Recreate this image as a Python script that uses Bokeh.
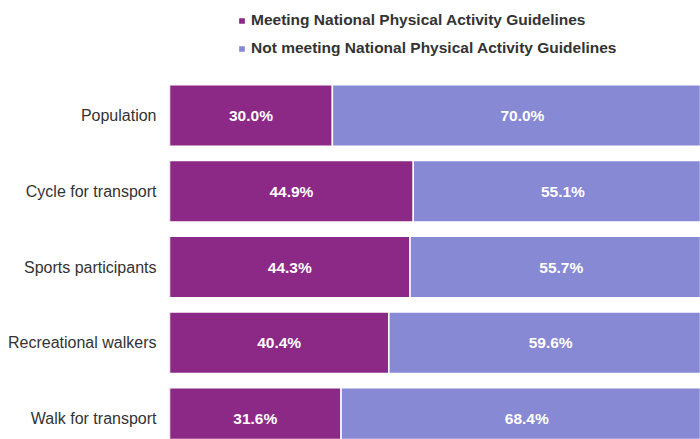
from bokeh.plotting import figure
from bokeh.models import ColumnDataSource, Range1d, FixedTicker, Legend, LegendItem
from bokeh.core.properties import value
from bokeh.embed import file_html
from bokeh.resources import INLINE

categories = ["Population", "Cycle for transport", "Sports participants",
              "Recreational walkers", "Walk for transport"]
meeting = [30.0, 44.9, 44.3, 40.4, 31.6]
not_meeting = [70.0, 55.1, 55.7, 59.6, 68.4]
series_names = ["Meeting National Physical Activity Guidelines",
                "Not meeting National Physical Activity Guidelines"]
colors = ["#8C2886", "#8789D4"]

ypos = [-i for i in range(len(categories))]
src = ColumnDataSource(dict(
    y=ypos,
    m=meeting,
    nm_left=meeting,
    nm_right=[a + b for a, b in zip(meeting, not_meeting)],
    m_mid=[a / 2 for a in meeting],
    nm_mid=[a + b / 2 for a, b in zip(meeting, not_meeting)],
    m_lab=["%.1f%%" % v for v in meeting],
    nm_lab=["%.1f%%" % v for v in not_meeting],
))

p = figure(width=700, height=439, output_backend="svg", toolbar_location=None,
           x_range=Range1d(0, 97.8), y_range=Range1d(-4.277, 1.518),
           min_border_left=169, min_border_right=0, min_border_top=0,
           min_border_bottom=0, outline_line_color=None)
p.xaxis.visible = False
p.grid.visible = False

r1 = p.hbar(y="y", left=0, right="m", height=0.81, source=src,
            fill_color=colors[0], line_color="white", line_width=1.5)
r2 = p.hbar(y="y", left="nm_left", right="nm_right", height=0.81, source=src,
            fill_color=colors[1], line_color="white", line_width=1.5)

for xcol, lcol in (("m_mid", "m_lab"), ("nm_mid", "nm_lab")):
    p.text(x=xcol, y="y", text=lcol, source=src, text_color="white",
           text_font=value("Liberation Sans"), text_font_style="bold",
           text_font_size="15.5px", text_align="center", text_baseline="middle")

ax = p.yaxis[0]
ax.ticker = FixedTicker(ticks=ypos)
ax.major_label_overrides = {y: c for y, c in zip(ypos, categories)}
ax.axis_line_color = None
ax.major_tick_line_color = None
ax.minor_tick_line_color = None
ax.major_tick_out = 0
ax.major_tick_in = 0
ax.major_label_standoff = 13
ax.major_label_text_font = "Liberation Sans"
ax.major_label_text_font_size = "16px"
ax.major_label_text_color = "#333333"

legend = Legend(items=[LegendItem(label=series_names[0], renderers=[r1]),
                       LegendItem(label=series_names[1], renderers=[r2])],
                location=(68, 381), orientation="vertical",
                glyph_width=9, glyph_height=9, label_standoff=5,
                label_height=20, spacing=8, padding=0, margin=0,
                border_line_color=None, background_fill_alpha=0,
                label_text_font="Liberation Sans", label_text_font_style="bold",
                label_text_font_size="15.5px", label_text_color="#333333")
p.add_layout(legend, "center")

open("out.html", "w").write(file_html(p, INLINE))
